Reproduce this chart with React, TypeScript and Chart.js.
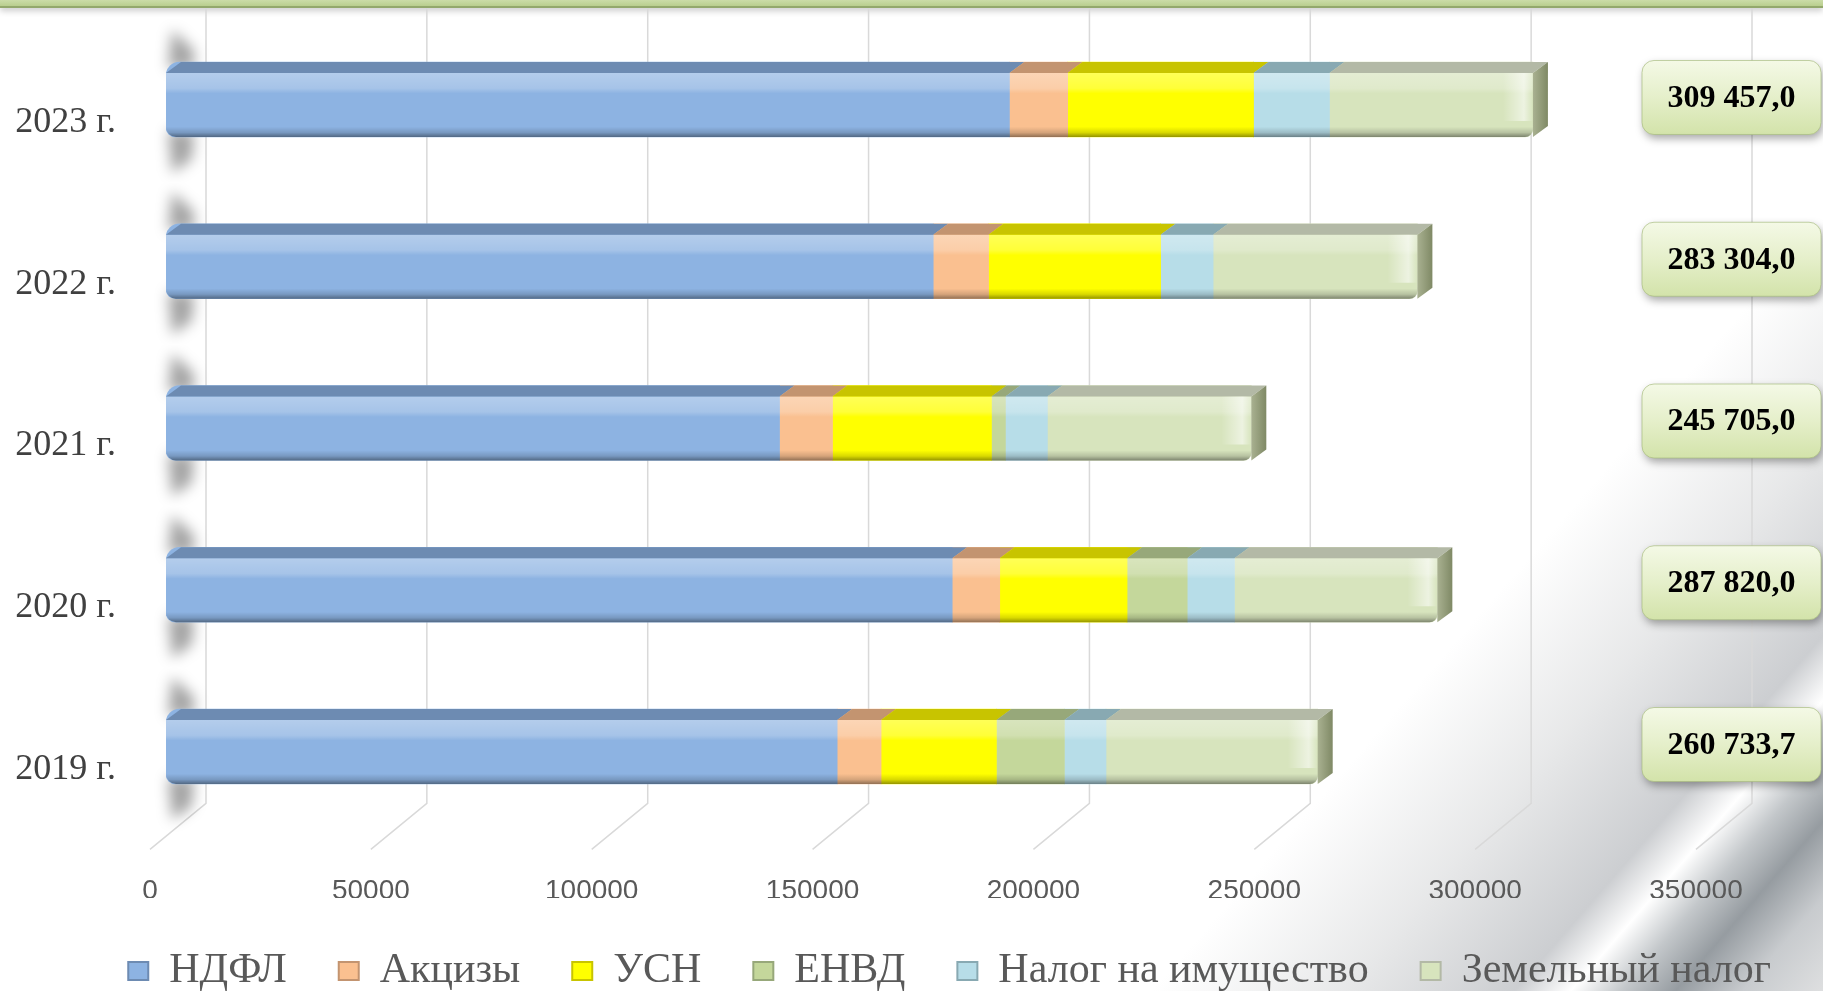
import React, { useEffect, useRef } from 'react';
import { Chart, registerables } from 'chart.js';

Chart.register(...registerables);

// ---------- data ----------
const categories = ['2023 г.', '2022 г.', '2021 г.', '2020 г.', '2019 г.'];
const seriesNames = ['НДФЛ', 'Акцизы', 'УСН', 'ЕНВД', 'Налог на имущество', 'Земельный налог'];
const ndfl = [190950, 173690, 138900, 177990, 151950];
const akcizy = [13180, 12530, 11990, 10760, 9940];
const usn = [42070, 38940, 35990, 28830, 26110];
const envd = [0, 0, 3160, 13610, 15390];
const imushchestvo = [17200, 11900, 9500, 10700, 9420];
const zemelny = [46057, 46244, 46165, 45930, 47923.7];
const totals = [309457.0, 283304.0, 245705.0, 287820.0, 260733.7];
const xTicks = [0, 50000, 100000, 150000, 200000, 250000, 300000, 350000];

// ---------- styles ----------
const frontColors = ['#8db3e2', '#fac090', '#ffff00', '#c4d79b', '#b7dde8', '#d7e4bd'];
const topColors = ['#6d8bb2', '#c39470', '#c8c400', '#97a87a', '#88a9b2', '#b3b9a6'];

const BACK = 40;
const FRONT = -16;
const T = 11;
const DX = 15;

const fmt = (v: number) => {
  const [i, d] = v.toFixed(1).split('.');
  return i.replace(/\B(?=(\d{3})+(?!\d))/g, ' ') + ',' + d;
};

const bar3d = {
  id: 'bar3d',
  beforeDatasetsDraw(chart: any) {
    const { ctx, chartArea } = chart;
    const xs = chart.scales.x;
    ctx.save();
    ctx.strokeStyle = '#d9d9d9';
    ctx.lineWidth = 1.5;
    for (const v of xTicks) {
      const p = xs.getPixelForValue(v);
      ctx.beginPath();
      ctx.moveTo(p + BACK, 8);
      ctx.lineTo(p + BACK, chartArea.bottom - 24);
      ctx.lineTo(p + FRONT, chartArea.bottom + 22);
      ctx.stroke();
    }
    ctx.filter = 'blur(7px)';
    ctx.fillStyle = 'rgba(0,0,0,0.36)';
    categories.forEach((_, i) => {
      const el = chart.getDatasetMeta(0).data[i];
      if (!el) return;
      const top = el.y - el.height / 2;
      const bottom = el.y + el.height / 2;
      ctx.beginPath();
      ctx.moveTo(el.base + 2, top + 6);
      ctx.lineTo(el.base + 6, top - 32);
      ctx.lineTo(el.base + 28, top - 12);
      ctx.lineTo(el.base + 28, top + 6);
      ctx.closePath();
      ctx.fill();
      ctx.beginPath();
      ctx.moveTo(el.base + 2, bottom - 6);
      ctx.lineTo(el.base + 28, bottom - 6);
      ctx.lineTo(el.base + 26, bottom + 22);
      ctx.lineTo(el.base + 6, bottom + 36);
      ctx.closePath();
      ctx.fill();
    });
    ctx.restore();
  },
  afterDatasetsDraw(chart: any) {
    const { ctx } = chart;
    ctx.save();
    categories.forEach((_, i) => {
      const segs: any[] = [];
      for (let d = 0; d < seriesNames.length; d++) {
        const el = chart.getDatasetMeta(d).data[i];
        if (el && Math.abs(el.x - el.base) > 0.5) segs.push({ d, el });
      }
      if (!segs.length) return;
      const e0 = segs[0].el;
      const top = e0.y - e0.height / 2;
      const bottom = e0.y + e0.height / 2;
      const left = e0.base;
      const right = segs[segs.length - 1].el.x;

      // front gloss
      const g = ctx.createLinearGradient(0, top + T, 0, bottom);
      g.addColorStop(0, 'rgba(255,255,255,0.34)');
      g.addColorStop(0.24, 'rgba(255,255,255,0.22)');
      g.addColorStop(0.32, 'rgba(255,255,255,0)');
      g.addColorStop(0.84, 'rgba(0,0,0,0)');
      g.addColorStop(0.93, 'rgba(0,0,0,0.15)');
      g.addColorStop(1, 'rgba(0,0,0,0.42)');
      ctx.fillStyle = g;
      ctx.beginPath();
      ctx.roundRect(left, top + T, right - left, bottom - top - T, [0, 0, 8, 10]);
      ctx.fill();

      // top faces
      segs.forEach(({ d, el }) => {
        ctx.fillStyle = topColors[d];
        ctx.beginPath();
        ctx.moveTo(el.base + DX, top);
        ctx.lineTo(el.x + DX, top);
        ctx.lineTo(el.x, top + T);
        ctx.lineTo(el.base, top + T);
        ctx.closePath();
        ctx.fill();
      });

      // glare at right end
      const hg = ctx.createLinearGradient(right - 30, 0, right, 0);
      hg.addColorStop(0, 'rgba(255,255,255,0)');
      hg.addColorStop(0.7, 'rgba(255,255,255,0.55)');
      hg.addColorStop(1, 'rgba(255,255,255,0)');
      ctx.fillStyle = hg;
      ctx.fillRect(right - 30, top + T, 30, (bottom - top - T) * 0.75);

      // side face
      const sg = ctx.createLinearGradient(right, 0, right + DX, 0);
      sg.addColorStop(0, '#a9b191');
      sg.addColorStop(1, '#7f8965');
      ctx.fillStyle = sg;
      ctx.beginPath();
      ctx.moveTo(right, top + T);
      ctx.lineTo(right + DX, top);
      ctx.lineTo(right + DX, bottom - T);
      ctx.lineTo(right, bottom);
      ctx.closePath();
      ctx.fill();
    });
    ctx.restore();
  },
  afterDraw(chart: any) {
    const { ctx } = chart;
    const ys = chart.scales.y;
    ctx.save();
    categories.forEach((_, i) => {
      const yc = ys.getPixelForValue(i) - 2;
      const bw = 179;
      const bh = 74;
      const bx = 1642;
      const by = yc - bh / 2;
      ctx.shadowColor = 'rgba(0,0,0,0.35)';
      ctx.shadowBlur = 8;
      ctx.shadowOffsetX = 2;
      ctx.shadowOffsetY = 4;
      const g = ctx.createLinearGradient(0, by, 0, by + bh);
      g.addColorStop(0, '#f4f9e6');
      g.addColorStop(0.5, '#e5efca');
      g.addColorStop(1, '#d3e3aa');
      ctx.fillStyle = g;
      ctx.beginPath();
      ctx.roundRect(bx, by, bw, bh, 12);
      ctx.fill();
      ctx.shadowColor = 'transparent';
      ctx.strokeStyle = 'rgba(170,190,130,0.7)';
      ctx.lineWidth = 1;
      ctx.stroke();
      ctx.fillStyle = '#000';
      ctx.font = 'bold 32px "Liberation Serif", serif';
      ctx.textAlign = 'center';
      ctx.textBaseline = 'middle';
      ctx.fillText(fmt(totals[i]), bx + bw / 2, yc + 1);
    });
    ctx.restore();
  },
};

const seriesData = [ndfl, akcizy, usn, envd, imushchestvo, zemelny];

export default function App() {
  const ref = useRef<HTMLCanvasElement>(null);

  useEffect(() => {
    const canvas = ref.current;
    if (!canvas) return;
    const chart = new Chart(canvas, {
      type: 'bar',
      data: {
        labels: categories,
        datasets: seriesNames.map((name, k) => ({
          label: name,
          data: seriesData[k],
          backgroundColor: frontColors[k],
          borderWidth: 0,
          barThickness: 75,
          borderSkipped: false,
          borderRadius:
            k === 0
              ? { topLeft: 14, bottomLeft: 10, topRight: 0, bottomRight: 0 }
              : k === seriesNames.length - 1
              ? { topLeft: 0, bottomLeft: 0, topRight: 0, bottomRight: 8 }
              : 0,
        })),
      },
      options: {
        indexAxis: 'y',
        responsive: false,
        animation: false,
        devicePixelRatio: 1,
        layout: { padding: { left: 0, right: 0, top: 18.6, bottom: -11 } },
        scales: {
          x: {
            type: 'linear',
            stacked: true,
            min: 0,
            max: 350000,
            grid: { display: false, drawTicks: false },
            border: { display: false },
            ticks: {
              stepSize: 50000,
              autoSkip: false,
              maxRotation: 0,
              padding: 47,
              labelOffset: FRONT,
              color: '#595959',
              font: { family: '"Liberation Sans", sans-serif', size: 28 },
              callback: (v: any) => String(v),
            },
            afterFit: (s: any) => {
              s.height = 70.6;
            },
          },
          y: {
            type: 'category',
            stacked: true,
            grid: { display: false, drawTicks: false },
            border: { display: false },
            ticks: {
              padding: 50,
              labelOffset: 23,
              color: '#404040',
              font: { family: '"Liberation Serif", serif', size: 36 },
            },
            afterFit: (s: any) => {
              s.width = 166;
              s.paddingTop = 0;
              s.paddingBottom = 0;
            },
          },
          yR: {
            type: 'linear',
            position: 'right',
            display: true,
            grid: { display: false, drawTicks: false },
            border: { display: false },
            ticks: { display: false },
            afterFit: (s: any) => {
              s.width = 111;
              s.paddingTop = 0;
              s.paddingBottom = 0;
            },
          },
        },
        plugins: {
          tooltip: { enabled: false },
          legend: {
            position: 'bottom',
            align: 'end',
            labels: {
              boxWidth: 20,
              boxHeight: 18,
              padding: 52,
              color: '#595959',
              font: { family: '"Liberation Serif", serif', size: 42 },
              generateLabels: (c: any) => {
                const items = (Chart.defaults.plugins.legend.labels as any).generateLabels(c);
                return items.map((it: any, k: number) => ({
                  ...it,
                  fillStyle: frontColors[k],
                  strokeStyle: topColors[k],
                  lineWidth: 2,
                }));
              },
            },
          },
        },
      } as any,
      plugins: [bar3d],
    });
    return () => chart.destroy();
  }, []);

  const swoosh =
    'linear-gradient(131deg, rgba(255,255,255,0) 75%, rgba(226,227,228,0.8) 82%, rgba(204,206,209,1) 88.5%, #ffffff 90.6%, rgba(195,199,202,1) 92.5%, rgba(150,156,161,1) 94.5%, rgba(200,203,206,1) 97%, rgba(222,223,224,1) 100%)';

  return (
    <div
      style={{
        position: 'fixed',
        left: 0,
        top: 0,
        width: 1823,
        height: 991,
        overflow: 'hidden',
        background: '#ffffff',
      }}
    >
      <div style={{ position: 'absolute', inset: 0, background: swoosh }} />
      <div
        style={{
          position: 'absolute',
          left: 0,
          top: 0,
          width: 1823,
          height: 6,
          background: 'linear-gradient(#cbdca8, #b9ce8e)',
          borderBottom: '2px solid #93a86c',
          boxShadow: '0 3px 6px rgba(0,0,0,0.2)',
        }}
      />
      <canvas
        ref={ref}
        width={1823}
        height={991}
        style={{ position: 'absolute', left: 0, top: 0, width: 1823, height: 991 }}
      />
    </div>
  );
}
